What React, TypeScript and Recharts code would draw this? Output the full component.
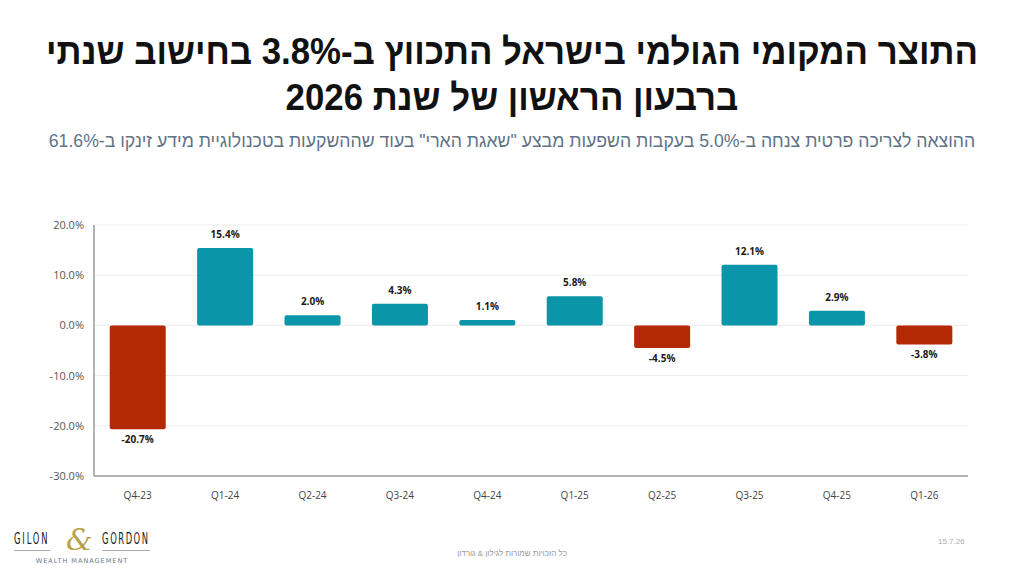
import React from 'react';
import { BarChart, Bar, XAxis, YAxis, CartesianGrid, Cell, LabelList } from 'recharts';

const quarters = ['Q4-23', 'Q1-24', 'Q2-24', 'Q3-24', 'Q4-24', 'Q1-25', 'Q2-25', 'Q3-25', 'Q4-25', 'Q1-26'];
const growth = [-20.7, 15.4, 2.0, 4.3, 1.1, 5.8, -4.5, 12.1, 2.9, -3.8];
const yTicks = [-30, -20, -10, 0, 10, 20];

const TEAL = '#0a95a9';
const RED = '#b32903';

const data = quarters.map((q, i) => ({ quarter: q, value: growth[i] }));

const AXIS_FONT = '"Open Sans", "Noto Sans", sans-serif';

function ValueLabel(props: any) {
  const { x, y, width, height, value } = props;
  const top = Math.min(y, y + height);
  const bottom = Math.max(y, y + height);
  const cx = x + width / 2;
  const ty = value >= 0 ? top - 10 : bottom + 14;
  return (
    <text x={cx} y={ty} textAnchor="middle" fontSize={10} fontWeight={700} fill="#1a1a1a" fontFamily={AXIS_FONT}>
      {value.toFixed(1)}%
    </text>
  );
}

const logoWord: React.CSSProperties = {
  display: 'block',
  width: 56,
  textAlign: 'center',
  fontFamily: '"DejaVu Sans Condensed", "Liberation Sans Narrow", sans-serif',
  fontSize: 15,
  letterSpacing: 3,
  color: '#222',
  borderBottom: '1px solid #aaa',
  paddingBottom: 3,
  lineHeight: '16px',
};

export default function App() {
  return (
    <div
      style={{
        position: 'fixed',
        left: 0,
        top: 0,
        width: 1024,
        height: 576,
        background: '#fff',
        overflow: 'hidden',
      }}
    >
      <div
        dir="rtl"
        style={{
          position: 'absolute',
          top: 29,
          left: 0,
          width: 1024,
          textAlign: 'center',
          fontFamily: '"Liberation Sans", "DejaVu Sans", sans-serif',
          fontWeight: 700,
          fontSize: 37,
          lineHeight: '46px',
          color: '#111',
          transform: 'scaleX(0.94)',
        }}
      >
        התוצר המקומי הגולמי בישראל התכווץ ב-3.8% בחישוב שנתי
        <br />
        ברבעון הראשון של שנת 2026
      </div>
      <div
        dir="rtl"
        style={{
          position: 'absolute',
          top: 129,
          left: 0,
          width: 1024,
          textAlign: 'center',
          fontFamily: '"Liberation Sans", "DejaVu Sans", sans-serif',
          fontSize: 19,
          lineHeight: '24px',
          color: '#5f7387',
          transform: 'scaleX(0.93)',
        }}
      >
        ההוצאה לצריכה פרטית צנחה ב-5.0% בעקבות השפעות מבצע "שאגת הארי" בעוד שההשקעות בטכנולוגיית מידע זינקו ב-61.6%
      </div>

      <div style={{ position: 'absolute', left: 0, top: 200 }}>
        <BarChart
          width={1024}
          height={310}
          data={data}
          margin={{ top: 25, right: 56, bottom: 4, left: 0 }}
          barCategoryGap="18%"
        >
          <CartesianGrid vertical={false} stroke="#ececec" />
          <XAxis
            dataKey="quarter"
            height={30}
            axisLine={{ stroke: '#9a9a9a', strokeWidth: 1.5 }}
            tickLine={false}
            tickMargin={10}
            tick={{ fontSize: 10, fill: '#444', fontFamily: AXIS_FONT }}
          />
          <YAxis
            width={94}
            domain={[-30, 20]}
            ticks={yTicks}
            axisLine={{ stroke: '#9a9a9a', strokeWidth: 1.5 }}
            tickLine={false}
            tickMargin={4}
            tickFormatter={(v: number) => `${v.toFixed(1)}%`}
            tick={{ fontSize: 11, fill: '#555', fontFamily: AXIS_FONT }}
          />
          <Bar dataKey="value" radius={2} isAnimationActive={false}>
            {data.map((d) => (
              <Cell key={d.quarter} fill={d.value >= 0 ? TEAL : RED} />
            ))}
            <LabelList dataKey="value" content={ValueLabel} />
          </Bar>
        </BarChart>
      </div>

      <div style={{ position: 'absolute', left: 14, top: 527, width: 136 }}>
        <div style={{ display: 'flex', alignItems: 'flex-end', justifyContent: 'space-between', height: 24 }}>
          <span style={{ ...logoWord, transform: 'scaleX(0.62)', transformOrigin: 'left', width: 84, textAlign: 'left' }}>GILON</span>
          <span
            style={{
              position: 'absolute',
              left: 52,
              top: -2,
              fontFamily: '"DejaVu Serif", "Liberation Serif", serif',
              fontSize: 30,
              fontStyle: 'italic',
              color: '#b8a24a',
              lineHeight: '30px',
            }}
          >
            &amp;
          </span>
          <span style={{ ...logoWord, transform: 'scaleX(0.62)', transformOrigin: 'right', width: 96, textAlign: 'right', letterSpacing: 2.5 }}>GORDON</span>
        </div>
        <div
          style={{
            textAlign: 'center',
            fontFamily: '"DejaVu Sans", sans-serif',
            fontSize: 6.5,
            letterSpacing: 1,
            color: '#6c7a8a',
            marginTop: 6,
          }}
        >
          WEALTH MANAGEMENT
        </div>
      </div>

      <div
        dir="rtl"
        style={{
          position: 'absolute',
          left: 412,
          top: 549,
          width: 200,
          textAlign: 'center',
          fontFamily: '"Liberation Sans", sans-serif',
          fontSize: 8,
          color: '#999',
        }}
      >
        כל הזכויות שמורות לגילון &amp; גורדון
      </div>
      <div
        style={{
          position: 'absolute',
          left: 938,
          top: 537,
          fontFamily: '"Liberation Sans", sans-serif',
          fontSize: 8,
          color: '#aaa',
        }}
      >
        15.7.26
      </div>
    </div>
  );
}
